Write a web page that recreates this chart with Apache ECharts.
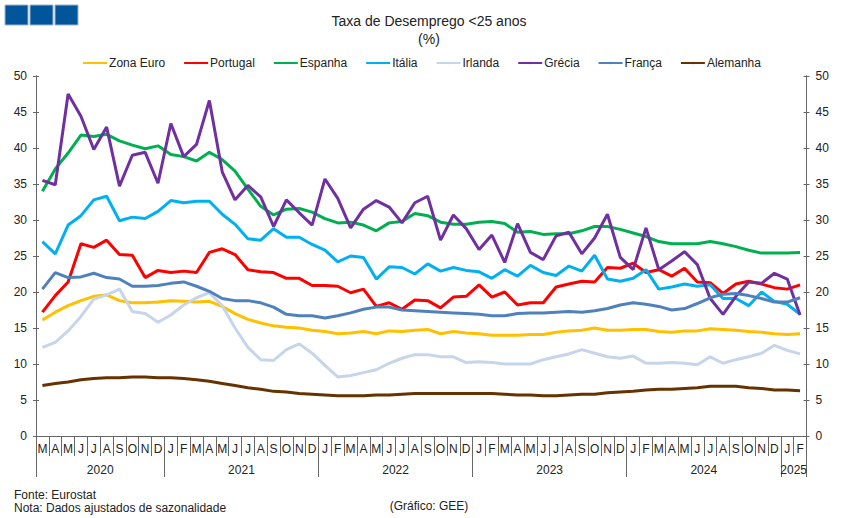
<!DOCTYPE html>
<html>
<head>
    <meta charset="utf-8">
    <title>Taxa de Desemprego</title>
    <script src="https://cdn.jsdelivr.net/npm/echarts@6/dist/echarts.min.js"></script>
    <style type="text/css">
        html, body {
            height: 100%;
            margin: 0;
            background: #fff;
        }
    </style>
</head>
<body>
<div id="main" style="width: 843px;height:518px;"></div>
<script type="text/javascript">
    var months = ['M','A','M','J','J','A','S','O','N','D',
        'J','F','M','A','M','J','J','A','S','O','N','D',
        'J','F','M','A','M','J','J','A','S','O','N','D',
        'J','F','M','A','M','J','J','A','S','O','N','D',
        'J','F','M','A','M','J','J','A','S','O','N','D',
        'J','F'];
    var years = ['2020','2021','2022','2023','2024','2025'];
    var yearStarts = [0, 10, 22, 34, 46, 58, 60];
    var yearCentres = [5, 16, 28, 40, 52, 59];

    var zonaEuro = [16.1,17.2,18.1,18.8,19.4,19.6,18.8,18.5,18.5,18.6,
        18.8,18.7,18.6,18.7,18.0,17.0,16.2,15.7,15.3,15.1,15.0,14.7,
        14.5,14.2,14.3,14.5,14.2,14.6,14.5,14.7,14.8,14.2,14.5,14.3,
        14.2,14.0,14.0,14.0,14.1,14.1,14.4,14.6,14.7,15.0,14.7,14.7,
        14.8,14.8,14.5,14.4,14.6,14.6,14.9,14.8,14.7,14.5,14.4,14.2,
        14.1,14.2];
    var portugal = [17.2,19.5,21.4,26.7,26.2,27.2,25.2,25.1,22.0,23.0,
        22.7,22.9,22.7,25.5,26.0,25.2,23.1,22.8,22.7,21.9,21.9,20.9,
        20.9,20.8,19.9,20.4,18.0,18.5,17.6,18.9,18.8,17.8,19.3,19.4,
        21.0,19.3,20.0,18.2,18.5,18.5,20.7,21.1,21.5,21.4,23.4,23.3,
        24.0,22.7,23.1,22.2,23.3,21.4,21.3,19.8,21.1,21.5,21.1,20.6,
        20.4,21.0];
    var espanha = [34.0,37.1,39.3,41.8,41.6,41.9,41.0,40.4,39.9,40.3,
        39.1,38.8,38.2,39.4,38.4,36.8,34.3,31.9,30.7,31.5,31.6,31.1,
        30.2,29.6,29.7,29.3,28.5,29.6,29.8,30.9,30.6,29.7,29.4,29.4,
        29.7,29.8,29.5,28.3,28.4,28.0,28.1,28.1,28.5,29.1,29.1,28.7,
        28.2,27.7,27.0,26.7,26.7,26.7,27.0,26.7,26.3,25.8,25.4,25.4,
        25.4,25.5];
    var italia = [27.0,25.3,29.3,30.6,32.8,33.3,29.9,30.4,30.2,31.2,
        32.7,32.4,32.6,32.6,30.8,29.4,27.4,27.2,28.8,27.6,27.6,26.6,
        25.8,24.2,25.0,24.8,21.8,23.5,23.4,22.5,23.9,22.9,23.4,23.0,
        22.8,21.9,23.1,22.2,23.7,22.7,22.3,23.6,22.9,25.1,21.8,21.5,
        21.9,23.1,20.4,20.7,21.1,20.8,21.0,19.1,19.1,18.1,20.0,18.7,
        18.3,16.9];
    var irlanda = [12.3,13.0,14.6,16.6,19.0,19.6,20.4,17.3,17.0,15.8,
        16.8,18.2,19.2,19.9,18.1,15.0,12.3,10.6,10.5,12.0,12.8,11.5,
        9.8,8.2,8.4,8.8,9.2,10.1,10.8,11.3,11.3,11.0,11.0,10.2,
        10.3,10.2,10.0,10.0,10.0,10.6,11.0,11.4,12.0,11.5,11.0,10.8,
        11.1,10.1,10.1,10.2,10.1,9.9,11.0,10.1,10.6,11.0,11.5,12.6,
        11.9,11.4];
    var grecia = [35.5,34.9,47.5,44.4,39.8,42.9,34.7,39.0,39.4,35.1,
        43.4,38.8,40.5,46.6,36.7,32.8,34.8,33.2,29.1,32.8,31.0,29.3,
        35.7,33.0,28.9,31.5,32.7,31.8,29.6,32.4,33.3,27.2,30.7,28.8,
        25.9,27.9,24.1,29.5,25.5,24.5,27.8,28.3,25.3,27.5,30.8,24.8,
        23.1,28.9,23.1,24.3,25.6,23.8,19.1,16.9,19.4,21.4,21.2,22.6,
        21.8,16.8];
    var franca = [20.4,22.7,22.0,22.1,22.6,22.0,21.8,20.8,20.8,20.9,
        21.2,21.4,20.8,20.1,19.1,18.8,18.8,18.5,17.9,16.9,16.7,16.7,
        16.4,16.7,17.1,17.6,17.9,17.9,17.5,17.4,17.3,17.2,17.1,17.0,
        16.9,16.7,16.7,17.0,17.1,17.1,17.2,17.3,17.2,17.4,17.7,18.2,
        18.5,18.3,18.0,17.5,17.7,18.4,19.2,19.7,19.8,19.5,19.1,18.6,
        18.6,19.2];
    var alemanha = [7.0,7.3,7.5,7.8,8.0,8.1,8.1,8.2,8.2,8.1,
        8.1,8.0,7.8,7.6,7.3,7.0,6.7,6.5,6.2,6.1,5.9,5.8,
        5.7,5.6,5.6,5.6,5.7,5.7,5.8,5.9,5.9,5.9,5.9,5.9,
        5.9,5.9,5.8,5.7,5.7,5.6,5.6,5.7,5.8,5.8,6.0,6.1,
        6.2,6.4,6.5,6.5,6.6,6.7,6.9,6.9,6.9,6.7,6.6,6.4,
        6.4,6.3];

    var seriesNames = ['Zona Euro','Portugal','Espanha','Itália','Irlanda','Grécia','França','Alemanha'];
    var seriesValues = [zonaEuro, portugal, espanha, italia, irlanda, grecia, franca, alemanha];
    var seriesColors = ['#FFC000','#FF0000','#00B050','#00B0F0','#C6D5EA','#7030A0','#4F81BD','#663300'];

    var font = '"Liberation Sans", Arial, sans-serif';
    var textColor = '#222';
    var axisColor = '#666';

    var myChart = echarts.init(document.getElementById('main'), null, {renderer: 'svg'});

    // eixos y: dois de cada lado para os tracos cruzarem a linha do eixo
    function yAxisFor(position, inside) {
        return {
            type: 'value',
            position: position,
            min: 0,
            max: 50,
            interval: 5,
            splitLine: {show: false},
            axisLine: {show: true, onZero: false, lineStyle: {color: axisColor, width: 1}},
            axisTick: {show: true, inside: inside, length: 3, lineStyle: {color: axisColor}},
            axisLabel: {
                show: !inside,
                margin: 9,
                fontFamily: font,
                fontSize: 12,
                color: textColor
            }
        };
    }

    var option = {
        animation: false,
        backgroundColor: '#fff',
        title: [
            {text: 'Taxa de Desemprego <25 anos', left: 424, top: 9, textAlign: 'center',
                textStyle: {fontFamily: font, fontSize: 14, fontWeight: 'normal', color: textColor}},
            {text: '(%)', left: 424, top: 27, textAlign: 'center',
                textStyle: {fontFamily: font, fontSize: 14, fontWeight: 'normal', color: textColor}},
            {text: 'Fonte: Eurostat', left: 9, top: 484,
                textStyle: {fontFamily: font, fontSize: 12, fontWeight: 'normal', color: textColor}},
            {text: 'Nota: Dados ajustados de sazonalidade', left: 9, top: 497,
                textStyle: {fontFamily: font, fontSize: 12, fontWeight: 'normal', color: textColor}},
            {text: '(Gráfico: GEE)', left: 424, top: 495, textAlign: 'center',
                textStyle: {fontFamily: font, fontSize: 12, fontWeight: 'normal', color: textColor}}
        ],
        legend: {
            top: 52,
            left: 'center',
            itemWidth: 24,
            itemHeight: 3,
            itemGap: 18,
            data: seriesNames,
            textStyle: {fontFamily: font, fontSize: 12, color: textColor, padding: [0, 0, 0, -3]}
        },
        grid: {left: 36, right: 36.5, top: 76, height: 360},
        xAxis: [
            {
                type: 'category',
                data: months,
                boundaryGap: true,
                axisLine: {show: true, lineStyle: {color: axisColor, width: 1}},
                axisTick: {show: true, interval: 0, length: 20, lineStyle: {color: axisColor}},
                axisLabel: {interval: 0, margin: 7, fontFamily: font, fontSize: 12, color: textColor}
            },
            {
                type: 'value',
                position: 'bottom',
                min: 0,
                max: 60,
                splitLine: {show: false},
                axisLine: {show: false},
                axisTick: {show: true, length: 41, customValues: yearStarts, lineStyle: {color: axisColor}},
                axisLabel: {
                    margin: 28,
                    customValues: yearCentres,
                    hideOverlap: false,
                    fontFamily: font,
                    fontSize: 12,
                    color: textColor,
                    formatter: function (value) {
                        return years[yearCentres.indexOf(value)];
                    }
                }
            }
        ],
        yAxis: [
            yAxisFor('left', false),
            yAxisFor('right', false),
            yAxisFor('left', true),
            yAxisFor('right', true)
        ],
        // blocos azuis do cabecalho
        graphic: [5, 30, 55].map(function (x) {
            return {
                type: 'rect',
                shape: {x: x, y: 5, width: 23, height: 20},
                style: {fill: '#00559B', stroke: '#9fb4c8', lineWidth: 1}
            };
        }),
        series: seriesNames.map(function (name, i) {
            return {
                name: name,
                type: 'line',
                data: seriesValues[i],
                symbol: 'none',
                smooth: false,
                lineStyle: {color: seriesColors[i], width: 3},
                itemStyle: {color: seriesColors[i]}
            };
        })
    };

    myChart.setOption(option);
</script>
</body>
</html>
